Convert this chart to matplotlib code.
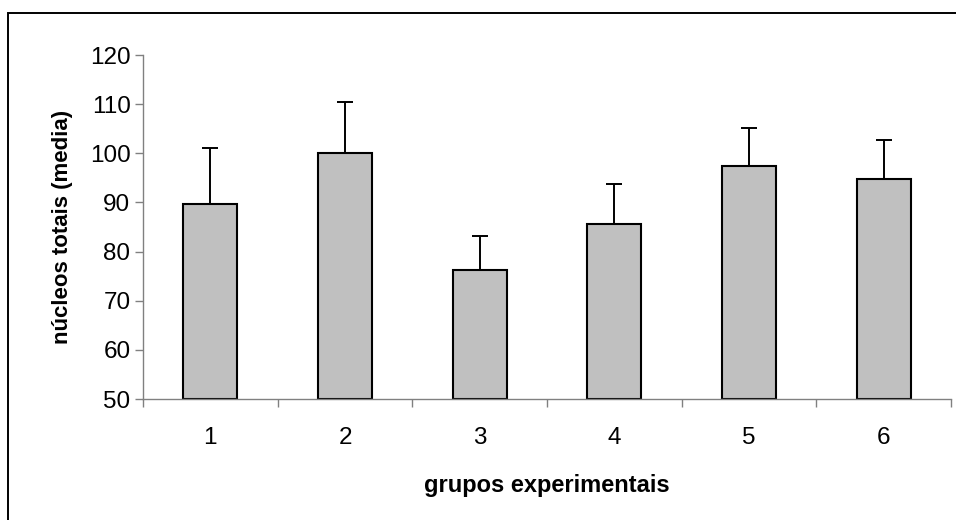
import numpy as np
import matplotlib
matplotlib.use('Agg')
import matplotlib.pyplot as plt
from matplotlib.patches import Rectangle

plt.rcParams['font.family'] = ['Liberation Sans', 'DejaVu Sans']

grupos = [1, 2, 3, 4, 5, 6]
media = [89.7, 100.0, 76.3, 85.7, 97.4, 94.7]
erro = [11.4, 10.4, 6.9, 8.1, 7.8, 8.1]
base = 50

fig = plt.figure(figsize=(9.56, 5.2), dpi=100)
ax = fig.add_axes([143/956, 121/520, (951-143)/956, (399-55)/520])

x = np.arange(1, len(grupos) + 1)
alturas = np.array(media) - base
ax.bar(x, alturas, bottom=base, width=0.40, color='#C0C0C0',
       edgecolor='black', linewidth=1.5, zorder=2)
ax.errorbar(x, media, yerr=[np.zeros(len(erro)), erro], fmt='none',
            ecolor='black', elinewidth=1.4, capsize=5.6, capthick=1.4, zorder=3)

ax.set_xlim(0.5, 6.5)
ax.set_ylim(50, 120)
ax.set_yticks(range(50, 121, 10))
ax.set_xticks(x)
ax.set_xticklabels([str(g) for g in grupos])
ax.set_xticks(np.arange(0.5, 6.6, 1), minor=True)

for s in ['top', 'right']:
    ax.spines[s].set_visible(False)
for s in ['left', 'bottom']:
    ax.spines[s].set_color('#808080')
    ax.spines[s].set_linewidth(1.0)

ax.tick_params(axis='y', direction='out', length=6, width=1, color='#808080',
               labelsize=17.5, pad=3)
ax.tick_params(axis='x', which='major', length=0, labelsize=17.5, pad=20)
ax.tick_params(axis='x', which='minor', direction='out', length=6, width=1,
               color='#808080')

ax.set_xlabel('grupos experimentais', fontsize=17, fontweight='bold', labelpad=18)
ax.set_ylabel('núcleos totais (media)', fontsize=16, fontweight='bold', labelpad=12)

borda = Rectangle((8/956, -0.5), 2, 0.5 + (520-13)/520, transform=fig.transFigure,
                  fill=False, edgecolor='black', linewidth=1.4, clip_on=False)
fig.patches.append(borda)

fig.savefig('out.png', dpi=100)
